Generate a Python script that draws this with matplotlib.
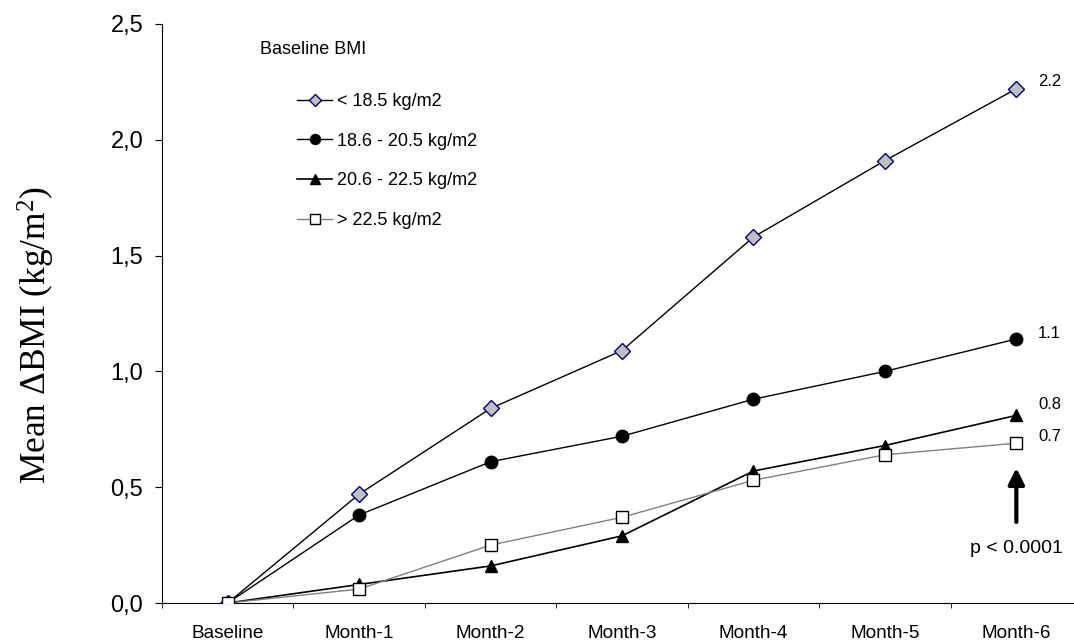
import matplotlib.pyplot as plt
import numpy as np

plt.rcParams['font.family'] = ['Liberation Sans', 'DejaVu Sans']
plt.rcParams['mathtext.fontset'] = 'custom'
plt.rcParams['mathtext.rm'] = 'Liberation Serif'
plt.rcParams['mathtext.it'] = 'Liberation Serif:italic'

# time points and mean change in BMI per baseline BMI group
timepoints = ["Baseline", "Month-1", "Month-2", "Month-3", "Month-4", "Month-5", "Month-6"]
groups = ["< 18.5 kg/m2", "18.6 - 20.5 kg/m2", "20.6 - 22.5 kg/m2", "> 22.5 kg/m2"]
bmi_under_18 = [0.0, 0.47, 0.84, 1.09, 1.58, 1.91, 2.22]
bmi_18_20 = [0.0, 0.38, 0.61, 0.72, 0.88, 1.00, 1.14]
bmi_20_22 = [0.0, 0.08, 0.16, 0.29, 0.57, 0.68, 0.81]
bmi_over_22 = [0.0, 0.06, 0.25, 0.37, 0.53, 0.64, 0.69]
end_labels = ["2.2", "1.1", "0.8", "0.7"]
end_label_y = [2.25, 1.165, 0.855, 0.72]

x = np.arange(len(timepoints))

fig = plt.figure(figsize=(10.74, 6.43), dpi=100)
ax = fig.add_axes([0.1508, 0.0622, 0.8567, 0.9005])

ax.plot(x, bmi_under_18, color='black', lw=1, marker='D', ms=8,
        mfc='#c0c0c0', mec='#000080', mew=1, label=groups[0], zorder=3)
ax.plot(x, bmi_18_20, color='black', lw=1, marker='o', ms=9,
        mfc='black', mec='black', label=groups[1], zorder=3)
ax.plot(x, bmi_20_22, color='black', lw=1.2, marker='^', ms=9,
        mfc='black', mec='black', label=groups[2], zorder=3)
ax.plot(x, bmi_over_22, color='#808080', lw=1, marker='s', ms=9,
        mfc='white', mec='black', mew=1, label=groups[3], zorder=4)

for lab, yy in zip(end_labels, end_label_y):
    ax.text(x[-1] + 0.165, yy, lab, fontsize=12, ha='left', va='center')

# significance arrow under the last time point
ax.annotate('', xy=(x[-1], 0.583), xytext=(x[-1], 0.35),
            arrowprops=dict(arrowstyle='-|>', lw=3, color='black',
                            mutation_scale=24, shrinkA=0, shrinkB=0))
ax.text(x[-1], 0.236, 'p < 0.0001', fontsize=14, ha='center', va='center')

ax.text(0.246, 2.388, 'Baseline BMI', fontsize=13, ha='left', va='center')
ax.legend(loc='upper left', bbox_to_anchor=(0.139, 0.893), frameon=False,
          fontsize=13, handlelength=1.95, handletextpad=0.28, labelspacing=1.25,
          markerscale=0.8, borderaxespad=0)

ax.set_xlim(-0.5, len(timepoints) - 0.5)
ax.set_ylim(0, 2.5)
yt = np.arange(0, 2.51, 0.5)
ax.set_yticks(yt)
ax.set_yticklabels([f"{v:.1f}".replace('.', ',') for v in yt], fontsize=17)
ax.set_xticks(x)
ax.set_xticklabels(timepoints, fontsize=13.7)
ax.set_xticks(np.arange(-0.5, len(timepoints), 1), minor=True)
ax.tick_params(axis='x', which='major', length=0, pad=16)
ax.tick_params(axis='x', which='minor', length=3.6, direction='out')
ax.tick_params(axis='y', length=5, direction='out', pad=8.5)
ax.spines['top'].set_visible(False)
ax.spines['right'].set_visible(False)

fig.text(36 / 1074, 1 - 335 / 643, 'Mean ΔBMI (kg/m$^2$)', family=['Liberation Serif'],
         fontsize=25.5, rotation=90, ha='center', va='center')

fig.savefig('out.png', dpi=100)
